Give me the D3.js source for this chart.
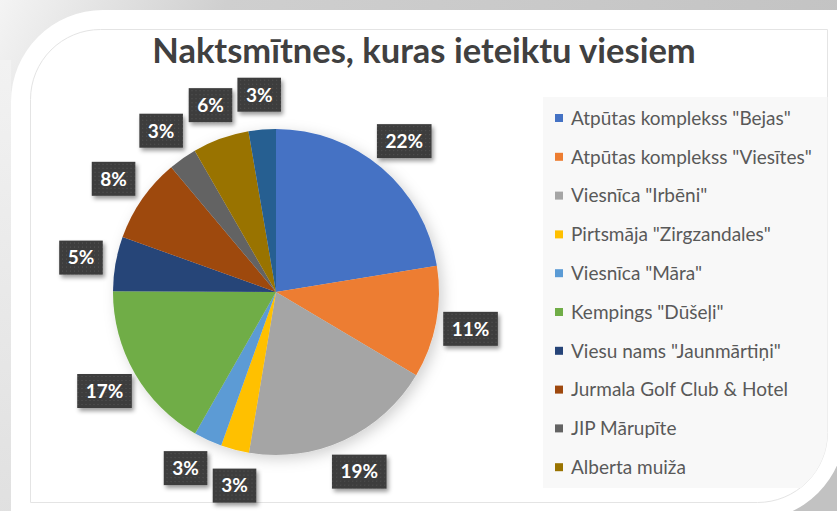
<!DOCTYPE html>
<html>
<head>
<meta charset="utf-8">
<script src="https://cdn.jsdelivr.net/npm/d3@7"></script>
<style>
  body { margin: 0; background: #fff; }
  svg { display: block; }
  text { font-family: Lato, "Open Sans", sans-serif; }
</style>
</head>
<body>
<div id="chart-area"></div>
<script>
const title = 'Naktsmītnes, kuras ieteiktu viesiem'

const categories = [
  'Atpūtas komplekss "Bejas"',
  'Atpūtas komplekss "Viesītes"',
  'Viesnīca "Irbēni"',
  'Pirtsmāja "Zirgzandales"',
  'Viesnīca "Māra"',
  'Kempings "Dūšeļi"',
  'Viesu nams "Jaunmārtiņi"',
  'Jurmala Golf Club & Hotel',
  'JIP Mārupīte',
  'Alberta muiža',
  'Cits'
]
// shares in %
const shares = [22.4, 11.1, 19.1, 2.8, 2.8, 16.8, 5.4, 8.4, 2.8, 5.6, 2.7]
const colors = ['#4472C4', '#ED7D31', '#A5A5A5', '#FFC000', '#5B9BD5', '#70AD47',
  '#264478', '#9E480E', '#636363', '#997300', '#255E91']

const width = 837
const height = 511

const svg = d3.select('#chart-area')
  .append('svg')
    .attr('width', width)
    .attr('height', height)

const defs = svg.append('defs')

// frame background gradient
const bgGrad = defs.append('linearGradient')
  .attr('id', 'bg-grad')
  .attr('x1', 0).attr('y1', 0).attr('x2', 1).attr('y2', 0.3)
bgGrad.append('stop').attr('offset', '0%').attr('stop-color', '#f4f4f4')
bgGrad.append('stop').attr('offset', '25%').attr('stop-color', '#cfcfcf')
bgGrad.append('stop').attr('offset', '100%').attr('stop-color', '#c2c2c2')

const leftGrad = defs.append('linearGradient')
  .attr('id', 'left-grad')
  .attr('x1', 0).attr('y1', 0).attr('x2', 0).attr('y2', 1)
leftGrad.append('stop').attr('offset', '0%').attr('stop-color', '#f2f2f2')
leftGrad.append('stop').attr('offset', '100%').attr('stop-color', '#dedede')

// dotted texture for label boxes
const pat = defs.append('pattern')
  .attr('id', 'dots')
  .attr('width', 4).attr('height', 4)
  .attr('patternUnits', 'userSpaceOnUse')
pat.append('rect').attr('width', 4).attr('height', 4).attr('fill', '#3d3d3d')
pat.append('rect').attr('x', 1).attr('y', 1).attr('width', 1).attr('height', 1).attr('fill', '#555')

const boxShadow = defs.append('filter').attr('id', 'box-shadow')
  .attr('x', '-30%').attr('y', '-30%').attr('width', '160%').attr('height', '170%')
boxShadow.append('feDropShadow')
  .attr('dx', 2).attr('dy', 3).attr('stdDeviation', 2)
  .attr('flood-color', '#000').attr('flood-opacity', 0.4)

const pieShadow = defs.append('filter').attr('id', 'pie-shadow')
  .attr('x', '-20%').attr('y', '-20%').attr('width', '140%').attr('height', '140%')
pieShadow.append('feDropShadow')
  .attr('dx', 4).attr('dy', 4).attr('stdDeviation', 7)
  .attr('flood-color', '#000').attr('flood-opacity', 0.18)

function cornerPath(x0, y0, x1, y1, r) {
  return `M${x0},${y0 + r} A${r},${r} 0 0 1 ${x0 + r},${y0} L${x1},${y0} ` +
    `L${x1},${y1 - r} A${r},${r} 0 0 1 ${x1 - r},${y1} L${x0},${y1} Z`
}

// frame
svg.append('rect')
  .attr('width', width).attr('height', height)
  .attr('fill', 'url(#bg-grad)')
svg.append('rect')
  .attr('x', 0).attr('y', 60).attr('width', 11).attr('height', height)
  .attr('fill', 'url(#left-grad)')

svg.append('path')
  .attr('d', cornerPath(11, 10, 845, 520, 92))
  .attr('fill', '#fff')

const plotPath = cornerPath(30.5, 29.5, 827.5, 502.5, 70)
defs.append('clipPath').attr('id', 'plot-clip')
  .append('path').attr('d', plotPath)

svg.append('path')
  .attr('d', plotPath)
  .attr('fill', '#fff')
  .attr('stroke', '#e4e4e4')
  .attr('stroke-width', 1)

// title
svg.append('text')
  .attr('x', 424)
  .attr('y', 63)
  .attr('text-anchor', 'middle')
  .attr('font-size', '34.5px')
  .attr('font-weight', 'bold')
  .attr('fill', '#404040')
  .text(title)

// legend
const legendBox = {x: 543, y: 97, w: 285, h: 391}
const rowStep = 38.8
const legendRows = Math.floor(legendBox.h / rowStep)

const legend = svg.append('g').attr('clip-path', 'url(#plot-clip)')
legend.append('rect')
  .attr('x', legendBox.x).attr('y', legendBox.y)
  .attr('width', legendBox.w).attr('height', legendBox.h)
  .attr('fill', '#f8f8f8')

const items = legend.selectAll('g.item')
  .data(categories.slice(0, legendRows))
  .enter()
  .append('g')
    .attr('class', 'item')
    .attr('transform', (d, i) => `translate(${legendBox.x + 12},${legendBox.y + 21 + i * rowStep})`)

items.append('rect')
  .attr('x', 0).attr('y', -4)
  .attr('width', 8).attr('height', 8)
  .attr('fill', (d, i) => colors[i])

items.append('text')
  .attr('x', 16)
  .attr('dy', '0.36em')
  .attr('font-size', '19px')
  .attr('fill', '#595959')
  .text(d => d)

// pie
const cx = 276
const cy = 292
const radius = 163
const labelRadius = radius + 35
const total = d3.sum(shares)

const pie = d3.pie().sort(null).value(d => d)
const arcs = pie(shares)
const arc = d3.arc().innerRadius(0).outerRadius(radius)

const pieG = svg.append('g')
  .attr('transform', `translate(${cx},${cy})`)

pieG.append('g')
  .attr('filter', 'url(#pie-shadow)')
  .selectAll('path')
  .data(arcs)
  .enter()
  .append('path')
    .attr('d', arc)
    .attr('fill', (d, i) => colors[i])

const labels = pieG.selectAll('g.label')
  .data(arcs)
  .enter()
  .append('g')
    .attr('class', 'label')

labels.append('rect')
  .attr('fill', 'url(#dots)')
  .attr('filter', 'url(#box-shadow)')

const labelText = labels.append('text')
  .attr('text-anchor', 'middle')
  .attr('dy', '0.36em')
  .attr('font-size', '19px')
  .attr('font-weight', 'bold')
  .attr('fill', '#fff')
  .text(d => Math.round(d.value / total * 100) + '%')

const boxH = 34
labelText.each(function (d) {
  d.boxW = this.getComputedTextLength() + 17
  d.labelAngle = (d.startAngle + d.endAngle) / 2
  d3.select(this.parentNode).select('rect')
    .attr('x', -d.boxW / 2).attr('y', -boxH / 2)
    .attr('width', d.boxW).attr('height', boxH)
})

// spread neighbouring labels apart along the circle when boxes collide
const pos = d => [labelRadius * Math.sin(d.labelAngle), -labelRadius * Math.cos(d.labelAngle)]
const step = Math.PI / 360
for (let iter = 0; iter < 100; iter++) {
  let moved = false
  for (let i = 0; i < arcs.length; i++) {
    const a = arcs[i]
    const b = arcs[(i + 1) % arcs.length]
    const [ax, ay] = pos(a)
    const [bx, by] = pos(b)
    const overlapX = Math.abs(ax - bx) < (a.boxW + b.boxW) / 2 + 3
    const overlapY = Math.abs(ay - by) < boxH + 3
    if (overlapX && overlapY) {
      a.labelAngle -= step
      b.labelAngle += step
      moved = true
    }
  }
  if (!moved) break
}

labels.attr('transform', d => `translate(${pos(d)})`)
</script>
</body>
</html>
